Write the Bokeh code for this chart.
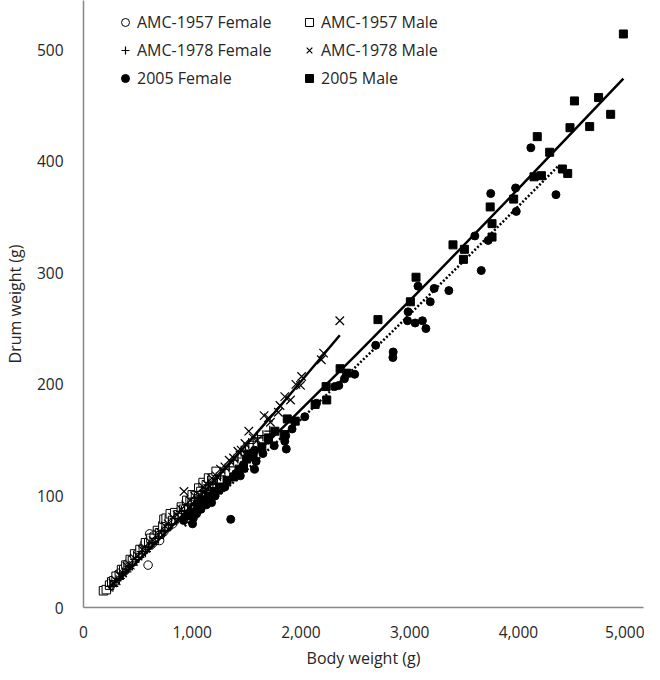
from bokeh.plotting import figure
from bokeh.models import Legend, LegendItem, FixedTicker, NumeralTickFormatter, Range1d
from bokeh.embed import file_html
from bokeh.resources import INLINE

# ---- data ----
f57_x = [230, 250, 260, 290, 300, 320, 340, 350, 380, 400, 420, 440, 460, 480, 500, 520, 540, 560, 580, 594, 608, 620, 640, 640,
         660, 680, 700, 700, 720, 740, 780, 800, 820, 840, 860, 880, 900, 920, 950, 980, 1000, 1020, 1060]
f57_y = [18, 22, 21, 26, 25, 30, 30, 34, 33, 39, 38, 43, 42, 47, 46, 52, 50, 57, 54, 38, 66, 56, 58, 64,
         60, 66, 64, 60, 70, 68, 72, 78, 75, 81, 80, 86, 84, 90, 88, 95, 93, 99, 100]

m57_x = [184, 210, 240, 260, 280, 300, 330, 350, 370, 390, 410, 430, 450, 470, 500, 520, 550, 570, 600, 620, 650, 680, 700, 730,
         740, 760, 760, 790, 798, 820, 840, 870, 900, 920, 950, 980, 1000, 1030, 1060, 1080, 1100, 1130, 1150, 1180, 1193, 1220]
m57_y = [15, 16, 20, 23, 24, 28, 29, 34, 34, 38, 38, 43, 42, 48, 47, 52, 52, 58, 58, 62, 62, 69, 67, 73,
         79, 73, 80, 79, 84, 78, 85, 83, 90, 88, 96, 95, 101, 100, 107, 104, 112, 110, 116, 114, 116, 122]

f78_x = [250, 270, 300, 330, 360, 390, 420, 450, 480, 510, 540, 570, 600, 630, 660, 690, 720, 750, 780, 810, 840, 870, 900, 930,
         960, 990, 1020, 1060, 1090, 1120, 1150, 1190, 1220, 1260, 1300, 1340, 1380, 1420, 1450, 1490, 1520, 1560, 1600, 1650, 1713]
f78_y = [19, 19, 24, 26, 31, 32, 37, 38, 43, 45, 50, 50, 55, 57, 62, 62, 68, 69, 74, 75, 80, 80, 86, 87,
         92, 93, 98, 98, 104, 105, 110, 111, 116, 118, 124, 126, 132, 134, 140, 141, 147, 149, 152, 154, 158]

m78_x = [270, 300, 330, 360, 400, 430, 470, 500, 540, 570, 610, 640, 680, 710, 750, 780, 820, 860, 900, 924, 940, 980, 1020, 1060,
         1100, 1140, 1180, 1220, 1260, 1300, 1340, 1380, 1420, 1450, 1485, 1520, 1560, 1600, 1661, 1700, 1719, 1792, 1807, 1851,
         1904, 1953, 1996, 2006, 2187, 2208, 2357]
m78_y = [22, 24, 29, 31, 37, 38, 44, 46, 52, 53, 59, 60, 66, 67, 73, 75, 81, 83, 88, 104, 92, 96, 100, 101,
         108, 110, 116, 118, 124, 126, 132, 134, 140, 141, 147, 158, 152, 150, 172, 170, 166, 175, 181, 189,
         186, 200, 199, 207, 222, 228, 257]

f05_x = [920, 960, 1003, 1010, 1040, 1080, 1100, 1130, 1178, 1210, 1250, 1300, 1354, 1400, 1442, 1470, 1520, 1573, 1573, 1588,
         1650, 1700, 1754, 1851, 1865, 1860, 1918, 1944, 2035, 2143, 2310, 2348, 2400, 2494, 2687, 2845, 2848, 2980, 2985,
         3050, 3117, 3149, 3076, 3189, 3225, 3360, 3599, 3658, 3722, 3745, 3974, 3980, 4114, 4345]
f05_y = [78, 82, 75, 80, 84, 88, 95, 92, 94, 100, 105, 108, 79, 120, 118, 128, 134, 124, 141, 131,
         138, 150, 145, 149, 142, 154, 160, 167, 171, 183, 198, 199, 205, 209, 235, 224, 229, 257, 265,
         255, 257, 250, 288, 274, 286, 284, 333, 302, 329, 371, 376, 355, 412, 370]

m05_x = [1000, 1050, 1100, 1150, 1200, 1250, 1320, 1380, 1430, 1471, 1500, 1515, 1560, 1640, 1700, 1760, 1845, 1874, 1947,
         2130, 2231, 2237, 2360, 2420, 2708, 3006, 3058, 3398, 3494, 3503, 3740, 3757, 3757, 3956, 4143, 4173, 4211, 4287,
         4404, 4453, 4474, 4515, 4655, 4737, 4848, 4965]
m05_y = [85, 92, 96, 100, 104, 108, 114, 117, 124, 125, 133, 137, 138, 144, 152, 158, 155, 169, 167,
         182, 198, 186, 214, 210, 258, 274, 296, 325, 312, 321, 359, 344, 332, 366, 386, 422, 387, 408,
         393, 389, 430, 454, 431, 457, 442, 514]

# trend lines
t78_x = [230, 500, 900, 1310, 1800, 2357]
t78_y = [17.2, 41.7, 81.5, 125, 179.5, 244]
tm05_x = [930, 1400, 1851, 2500, 3200, 4000, 4965]
tm05_y = [77.4, 120.5, 163, 225.7, 294.7, 375.3, 474]
tf05_x = [930, 1400, 2000, 2800, 3600, 4370]
tf05_y = [73.0, 114.1, 168.6, 243.5, 320.5, 396]

x_ticks = [0, 1000, 2000, 3000, 4000, 5000]
y_ticks = [0, 100, 200, 300, 400, 500]

FONT = "Open Sans"
TXT = "#262626"
AX = "#868686"

p = figure(width=644, height=671, output_backend="svg", toolbar_location=None,
           x_range=Range1d(0, 5150), y_range=Range1d(0, 544),
           min_border_left=61, min_border_right=1, min_border_top=0, min_border_bottom=58)
p.outline_line_color = None
p.xgrid.visible = False
p.ygrid.visible = False

r1 = p.scatter(f57_x, f57_y, marker="circle", size=8.5, fill_color="white", line_color="black", line_width=1)
r2 = p.scatter(m57_x, m57_y, marker="square", size=8.5, fill_color="white", line_color="black", line_width=1)
r3 = p.scatter(f78_x, f78_y, marker="cross", size=11, line_color="black", line_width=1.2)
r4 = p.scatter(m78_x, m78_y, marker="x", size=12, line_color="black", line_width=1.2)
r5 = p.scatter(f05_x, f05_y, marker="circle", size=8, fill_color="black", line_color="black")
r6 = p.scatter(m05_x, m05_y, marker="square", size=8, fill_color="black", line_color="black")

p.line(t78_x, t78_y, line_color="black", line_width=2.5)
p.line(tm05_x, tm05_y, line_color="black", line_width=2.5)
p.line(tf05_x, tf05_y, line_color="black", line_width=2.5, line_dash="2 2")

for ax in (p.xaxis[0], p.yaxis[0]):
    ax.axis_line_color = AX
    ax.axis_line_width = 1.5
    ax.major_tick_line_color = None
    ax.minor_tick_line_color = None
    ax.major_label_text_font = FONT
    ax.major_label_text_font_size = "15.5px"
    ax.major_label_text_color = TXT
    ax.axis_label_text_font = FONT
    ax.axis_label_text_font_size = "16px"
    ax.axis_label_text_font_style = "normal"
    ax.axis_label_text_color = TXT

p.xaxis.ticker = FixedTicker(ticks=x_ticks)
p.yaxis.ticker = FixedTicker(ticks=y_ticks)
p.xaxis.formatter = NumeralTickFormatter(format="0,0")
p.xaxis.major_label_standoff = 12
p.yaxis.major_label_standoff = 14
p.xaxis.axis_label = "Body weight (g)"
p.yaxis.axis_label = "Drum weight (g)"
p.xaxis.axis_label_standoff = 6
p.yaxis.axis_label_standoff = 8

legend = Legend(items=[
    LegendItem(label="AMC-1957 Female", renderers=[r1]),
    LegendItem(label="AMC-1978 Female", renderers=[r3]),
    LegendItem(label="2005 Female", renderers=[r5]),
    LegendItem(label="AMC-1957 Male", renderers=[r2]),
    LegendItem(label="AMC-1978 Male", renderers=[r4]),
    LegendItem(label="2005 Male", renderers=[r6]),
], ncols=2, location=(32, 518))
legend.glyph_width = 20
legend.glyph_height = 20
legend.label_height = 20
legend.label_width = 156
legend.label_standoff = 2
legend.spacing = 6
legend.padding = 0
legend.margin = 0
legend.border_line_color = None
legend.background_fill_alpha = 0
legend.label_text_font = FONT
legend.label_text_font_size = "16px"
legend.label_text_color = TXT
p.add_layout(legend, "center")

open("out.html", "w").write(file_html(p, INLINE))
